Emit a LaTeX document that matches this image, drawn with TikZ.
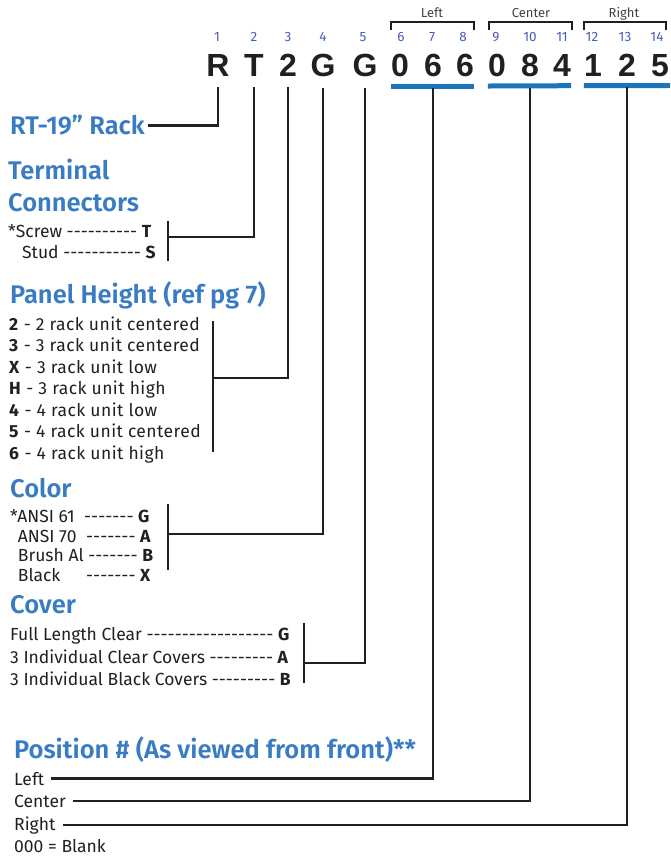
\documentclass[tikz,border=0pt]{standalone}
\usepackage{fontspec}
\setmainfont{Fira Sans}[Ligatures=TeXOff]
\newfontfamily\headfont{Fira Sans SemiBold}[Ligatures=TeXOff]
\newfontfamily\widefont{Fira Sans}[Ligatures=TeXOff, LetterSpace=2.5]
\newfontfamily\codefont{Liberation Sans}
\usepackage{xcolor}
\usetikzlibrary{positioning}
\definecolor{headblue}{RGB}{58,124,196}
\definecolor{barblue}{RGB}{27,117,187}
\definecolor{numblue}{RGB}{72,92,184}
\definecolor{textgray}{RGB}{35,31,32}

\begin{document}
\begin{tikzpicture}[
        x=1pt, y=-1pt,
        heading/.style={font=\headfont\fontsize{25.5}{29}\selectfont, text=headblue, anchor=base west, inner sep=0pt},
        item/.style={font=\fontsize{17.5}{20}\selectfont, text=textgray, anchor=base west, inner sep=0pt},
        wideitem/.style={item, font=\widefont\fontsize{17.5}{20}\selectfont},
        code/.style={font=\codefont\bfseries\fontsize{32}{36}\selectfont, text=textgray, anchor=base, inner sep=0pt},
        digitnum/.style={font=\fontsize{13.5}{15}\selectfont, text=numblue, anchor=base, inner sep=0pt},
        grp/.style={font=\fontsize{13}{15}\selectfont, text=textgray!85, anchor=base, inner sep=0pt},
        conn/.style={line width=2.4pt, draw=textgray},
        bar/.style={line width=5pt, draw=barblue},
        grpbrace/.style={line width=1.1pt, draw=textgray}
        ]
        \useasboundingbox (0,0) rectangle (670,856);

        % catalogue number and digit positions
        \foreach \ch/\x/\nm in {R/218/c1, T/254/c2, 2/288/c3, G/323/c4, G/365/c5,
                0/400/c6, 6/433/c7, 6/465/c8, 0/497/c9, 8/530/c10, 4/562/c11,
                1/593/c12, 2/627/c13, 5/660/c14}{
            \node[code] (\nm) at (\x,77) {\ch};
            \coordinate (t\nm) at ([yshift=-10pt]\nm.south);
        }
        \foreach \n/\x in {1/217, 2/254, 3/288, 4/323, 5/363, 6/401, 7/432, 8/463,
                9/496, 10/530, 11/562, 12/592, 13/625, 14/657}{
            \node[digitnum] (n\n) at (\x,42) {\n};
        }

        % Left / Center / Right groups
        \node[grp] (gleft) at (432,18) {Left};
        \node[grp] (gcenter) at (531,18) {Center};
        \node[grp] (gright) at (624,18) {Right};
        \draw[grpbrace] (391,30.5) |- (474,22) -- (474,30.5);
        \draw[grpbrace] (489,30.5) |- (572,22) -- (572,30.5);
        \draw[grpbrace] (584,30.5) |- (666,22) -- (666,30.5);

        \draw[bar] ([yshift=-8.5pt]c6.south west) -- ([yshift=-8.5pt]c8.south east);
        \draw[bar] ([yshift=-8.5pt]c9.south west) -- ([yshift=-8.5pt]c11.south east);
        \draw[bar] ([yshift=-8.5pt]c12.south west) -- (670,85.5);

        % rack
        \node[heading] (rack) at (10,135) {RT-19” Rack};
        \draw[conn] (tc1) |- ([xshift=3pt]rack.east);

        % terminal connectors
        \node[heading] (trmhead) at (8,179) {Terminal};
        \node[heading] (trmhead2) at (8,211) {Connectors};
        \node[item] (screw) at (8,237) {*Screw ---------- \textbf{T}};
        \node[item] (stud) at (22,258) {Stud ----------- \textbf{S}};
        \coordinate (trmtop) at (168,221);
        \coordinate (trmbot) at (168,261);
        \coordinate (trmmid) at (168,237);
        \draw[conn] (trmtop) -- (trmbot);
        \draw[conn] (tc2) |- (trmmid);

        % panel height
        \node[heading] (phhead) at (10,303) {Panel Height (ref pg 7)};
        \foreach \k/\txt [count=\i] in {2/2 rack unit centered, 3/3 rack unit centered,
                X/3 rack unit low, H/3 rack unit high, 4/4 rack unit low,
                5/4 rack unit centered, 6/4 rack unit high}{
            \node[wideitem] (ph\i) at (9,{330+21.5*(\i-1)}) {\textbf{\k} - \txt};
        }
        \coordinate (phtop) at (213,321);
        \coordinate (phbot) at (213,452);
        \coordinate (phmid) at (213,378);
        \draw[conn] (phtop) -- (phbot);
        \draw[conn] (tc3) |- (phmid);

        % color
        \node[heading] (colhead) at (10,497) {Color};
        \node[item] (col1) at (10,522) {\makebox[74pt][l]{*ANSI 61}-------\ \textbf{G}};
        \node[item] (col2) at (10,542) {\makebox[76pt][l]{\phantom{*}ANSI 70}-------\ \textbf{A}};
        \node[item] (col3) at (10,561) {\phantom{*}Brush Al -------\ \textbf{B}};
        \node[item] (col4) at (10,581) {\makebox[76pt][l]{\phantom{*}Black}-------\ \textbf{X}};
        \coordinate (coltop) at (168,504);
        \coordinate (colbot) at (168,570);
        \coordinate (colmid) at (168,534);
        \draw[conn] (coltop) -- (colbot);
        \draw[conn] (tc4) |- (colmid);

        % cover
        \node[heading] (covhead) at (10,613) {Cover};
        \node[item] (cov1) at (10,640) {Full Length Clear ------------------ \textbf{G}};
        \node[item] (cov2) at (10,663) {3 Individual Clear Covers --------- \textbf{A}};
        \node[item] (cov3) at (10,685) {3 Individual Black Covers --------- \textbf{B}};
        \coordinate (covtop) at (304,623);
        \coordinate (covbot) at (304,683);
        \coordinate (covmid) at (304,663);
        \draw[conn] (covtop) -- (covbot);
        \draw[conn] (tc5) |- (covmid);

        % position
        \node[heading] (poshead) at (14,758) {Position \# (As viewed from front)**};
        \node[item] (pleft) at (14,785) {Left};
        \node[item] (pcenter) at (14,807) {Center};
        \node[item] (pright) at (14,830) {Right};
        \node[item] (pblank) at (14,852) {000 = Blank};
        \draw[conn] (tc7) |- ([xshift=7pt]pleft.east);
        \draw[conn] (tc10) |- ([xshift=7pt]pcenter.east);
        \draw[conn] (tc13) |- ([xshift=7pt]pright.east);
\end{tikzpicture}
\end{document}
